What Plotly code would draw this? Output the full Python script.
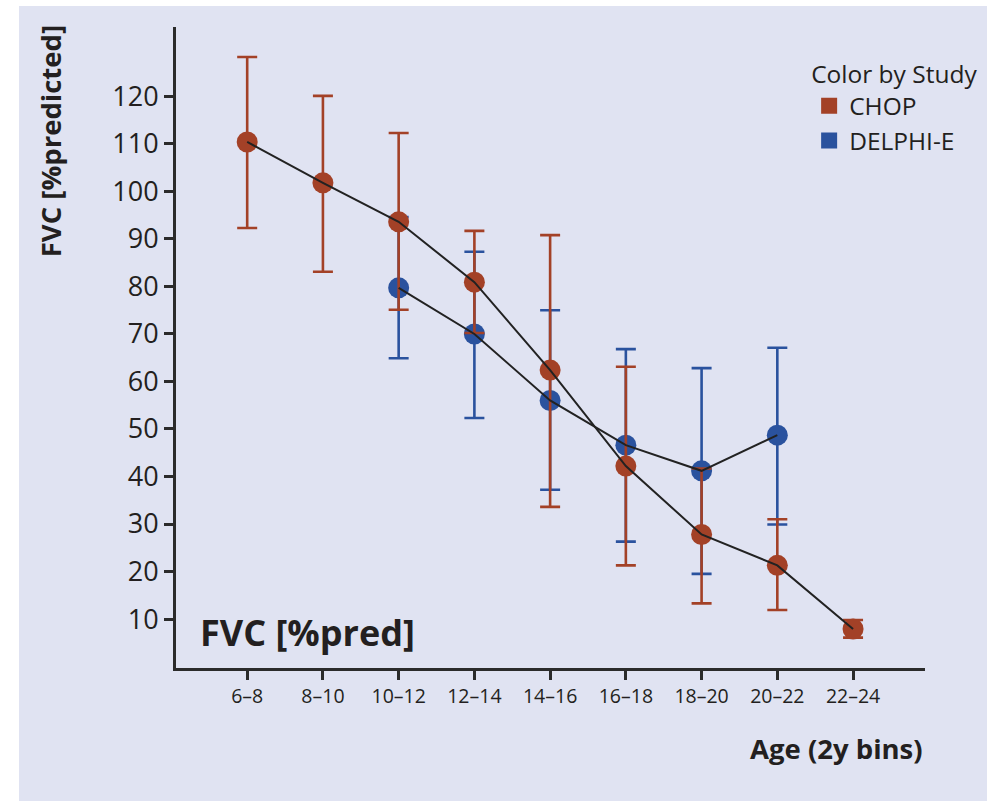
import plotly.graph_objects as go

# ---- data ----
age_bins = ["6–8", "8–10", "10–12", "12–14", "14–16", "16–18", "18–20", "20–22", "22–24"]

chop_x = ["6–8", "8–10", "10–12", "12–14", "14–16", "16–18", "18–20", "20–22", "22–24"]
chop_mean = [110.4, 101.8, 93.6, 80.9, 62.4, 42.2, 27.8, 21.3, 7.9]
chop_upper = [128.3, 120.1, 112.3, 91.7, 90.8, 63.1, 41.7, 31.0, 9.8]
chop_lower = [92.3, 83.1, 75.1, 70.2, 33.6, 21.3, 13.3, 11.9, 6.1]

delphi_x = ["10–12", "12–14", "14–16", "16–18", "18–20", "20–22"]
delphi_mean = [79.7, 70.0, 56.0, 46.6, 41.2, 48.7]
delphi_upper = [94.6, 87.3, 75.0, 66.8, 62.8, 67.1]
delphi_lower = [64.9, 52.3, 37.2, 26.3, 19.5, 29.9]

y_ticks = [10, 20, 30, 40, 50, 60, 70, 80, 90, 100, 110, 120]

RED = "#A34127"
BLUE = "#2A529E"
DARK = "#231F20"
BG = "#E0E3F2"
FONT = "Open Sans"

fig = go.Figure()


def add_series(name, xs, mean, upper, lower, color):
    fig.add_trace(go.Scatter(
        x=xs, y=mean, mode="markers", name=name, showlegend=False,
        marker=dict(color=color, size=21, line=dict(width=0)),
        error_y=dict(type="data", symmetric=False,
                     array=[u - m for u, m in zip(upper, mean)],
                     arrayminus=[m - l for m, l in zip(mean, lower)],
                     color=color, thickness=2.6, width=10),
    ))


add_series("DELPHI-E", delphi_x, delphi_mean, delphi_upper, delphi_lower, BLUE)
add_series("CHOP", chop_x, chop_mean, chop_upper, chop_lower, RED)

# connecting lines on top
for xs, ys in [(delphi_x, delphi_mean), (chop_x, chop_mean)]:
    fig.add_trace(go.Scatter(x=xs, y=ys, mode="lines", showlegend=False,
                             line=dict(color="#222222", width=2), hoverinfo="skip"))

# legend entries (squares)
for name, color in [("CHOP", RED), ("DELPHI-E", BLUE)]:
    fig.add_trace(go.Scatter(x=[None], y=[None], mode="markers", name=name,
                             marker=dict(symbol="square", color=color, size=18)))

fig.update_layout(
    width=996, height=801,
    margin=dict(l=176, r=71, t=27, b=133),
    paper_bgcolor="white",
    plot_bgcolor="rgba(0,0,0,0)",
    font=dict(family=FONT, color=DARK),
    showlegend=True,
    legend=dict(
        x=0.8453, y=0.962, xanchor="left", yanchor="top",
        bgcolor="rgba(0,0,0,0)",
        title=dict(text="Color by Study", font=dict(size=24.5, color=DARK)),
        font=dict(size=24.5, color=DARK),
        traceorder="normal", itemsizing="trace", tracegroupgap=0,
    ),
    xaxis=dict(
        type="category", categoryorder="array", categoryarray=age_bins,
        range=[-0.94, 8.95], showline=True, linewidth=3, linecolor="#2B2B2B",
        ticks="outside", ticklen=9, tickwidth=2.5, tickcolor="#2B2B2B",
        showgrid=False, zeroline=False,
        tickfont=dict(size=19.5, color=DARK),
    ),
    yaxis=dict(
        range=[-0.3, 134.6], showline=True, linewidth=3, linecolor="#2B2B2B",
        ticks="outside", ticklen=9, tickwidth=2.5, tickcolor="#2B2B2B",
        tickvals=y_ticks, showgrid=False, zeroline=False,
        tickfont=dict(size=27, color=DARK), ticklabelstandoff=0,
    ),
    shapes=[dict(type="rect", xref="paper", yref="paper",
                 x0=-0.2096, x1=1.0828, y0=-0.2075, y1=1.0328,
                 fillcolor=BG, line=dict(width=0), layer="below")],
    annotations=[
        dict(text="<b>FVC [%predicted]</b>", textangle=-90, xref="paper", yref="paper",
             x=-0.168, y=0.822, xanchor="center", yanchor="middle", showarrow=False,
             font=dict(size=27.5, color=DARK)),
        dict(text="<b>FVC [%pred]</b>", xref="paper", yref="paper",
             x=0.176, y=0.056, xanchor="center", yanchor="middle", showarrow=False,
             font=dict(size=36, color=DARK)),
        dict(text="<b>Age (2y bins)</b>", xref="paper", yref="paper",
             x=1.0, y=-0.125, xanchor="right", yanchor="middle", showarrow=False,
             font=dict(size=27.5, color=DARK)),
    ],
)

fig.write_html("out.html", post_script="document.body.style.margin='0px';",
               config={"displayModeBar": False})
